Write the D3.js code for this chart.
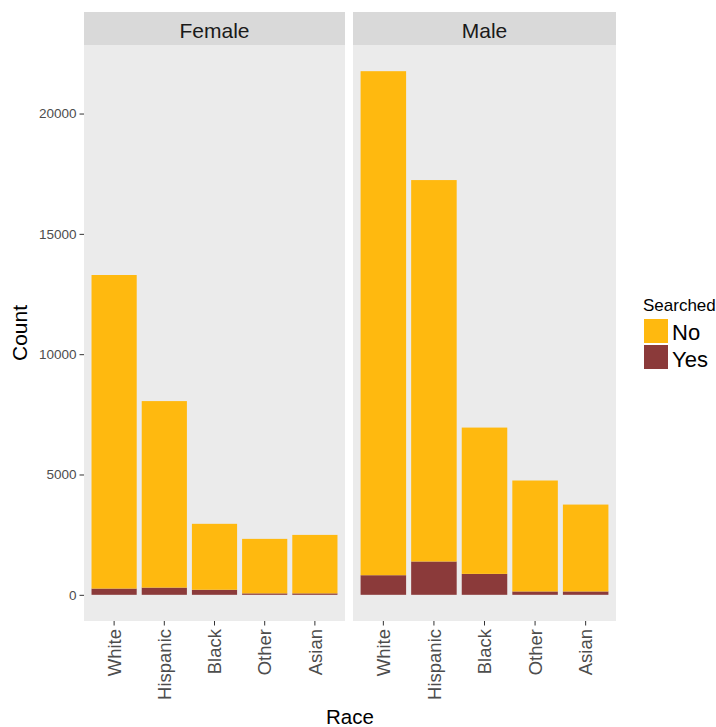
<!DOCTYPE html>
<html><head><meta charset="utf-8">
<script src="https://cdn.jsdelivr.net/npm/d3@7"></script>
<style>body{margin:0;background:#fff}svg{display:block}svg text{font-family:'Liberation Sans', Arial, sans-serif}</style>
</head><body>
<script>
const races = ["White","Hispanic","Black","Other","Asian"];
const genders = ["Female","Male"];
const searchedLevels = ["No","Yes"];
// counts
const femaleYes = [260, 300, 210, 60, 60];
const femaleNo  = [13030, 7750, 2740, 2265, 2430];
const maleYes   = [815, 1385, 870, 140, 140];
const maleNo    = [20945, 15850, 6080, 4610, 3610];
const yTicks = [0, 5000, 10000, 15000, 20000];
const colors = {No:"#FFB90F", Yes:"#8B3A3A"};

(function(){
const W = 716, H = 727;
const svg = d3.select("body").append("svg").attr("width", W).attr("height", H);

const panels = [
  {name:genders[0], x0:84, x1:345, no:femaleNo, yes:femaleYes},
  {name:genders[1], x0:353, x1:616, no:maleNo, yes:maleYes}
];
const pTop = 45, pBottom = 621, stripTop = 12;

const maxTotal = d3.max(panels.flatMap(p => p.no.map((v,i)=>v+p.yes[i])));
const y = d3.scaleLinear().domain([-0.05*maxTotal, 1.05*maxTotal]).range([pBottom, pTop]);

panels.forEach((p, pi) => {
  const x = d3.scaleBand().domain(races).range([p.x0, p.x1]).paddingInner(0.1).paddingOuter(0.15);
  const g = svg.append("g");
  g.append("rect").attr("x", p.x0).attr("y", pTop).attr("width", p.x1-p.x0).attr("height", pBottom-pTop).attr("fill", "#ebebeb");
  g.append("rect").attr("x", p.x0).attr("y", stripTop).attr("width", p.x1-p.x0).attr("height", pTop-stripTop).attr("fill", "#d9d9d9");
  g.append("text").attr("x", (p.x0+p.x1)/2).attr("y", 38)
    .attr("text-anchor","middle").attr("font-size", 21).attr("fill","#1a1a1a").text(p.name);
  const rows = races.map((r,i)=>({race:r, yes:p.yes[i], no:p.no[i]}));
  g.selectAll(".yes").data(rows).join("rect").attr("class","yes")
    .attr("x", d=>x(d.race)).attr("width", x.bandwidth())
    .attr("y", d=>y(d.yes)).attr("height", d=>y(0)-y(d.yes)).attr("fill", colors.Yes);
  g.selectAll(".no").data(rows).join("rect").attr("class","no")
    .attr("x", d=>x(d.race)).attr("width", x.bandwidth())
    .attr("y", d=>y(d.yes+d.no)).attr("height", d=>y(d.yes)-y(d.yes+d.no)).attr("fill", colors.No);
  const xa = svg.append("g").attr("transform", `translate(0,${pBottom})`)
    .call(d3.axisBottom(x).tickSize(4.5).tickPadding(3));
  xa.select(".domain").remove();
  xa.selectAll("line").attr("stroke","#333").attr("stroke-width",1);
  xa.selectAll("text").attr("font-size", 18.5).attr("fill","#4d4d4d")
    .attr("transform","rotate(-90)").attr("text-anchor","end")
    .attr("x", -8).attr("y", 0).attr("dy","0.36em");
  if (pi === 0) {
    const ya = svg.append("g").attr("transform", `translate(${p.x0},0)`)
      .call(d3.axisLeft(y).tickValues(yTicks).tickSize(4.5).tickPadding(3).tickFormat(d3.format("d")));
    ya.select(".domain").remove();
    ya.selectAll("line").attr("stroke","#333");
    ya.selectAll("text").attr("font-size", 13.5).attr("fill","#4d4d4d");
  }
});

svg.append("text").attr("transform", `translate(27,${(pTop+pBottom)/2}) rotate(-90)`)
  .attr("text-anchor","middle").attr("font-size", 21).attr("fill","#000").text("Count");
svg.append("text").attr("x", 350).attr("y", 724)
  .attr("text-anchor","middle").attr("font-size", 20.5).attr("fill","#000").text("Race");

const lg = svg.append("g");
lg.append("text").attr("x", 643).attr("y", 311).attr("font-size", 17).attr("fill","#000").text("Searched");
searchedLevels.forEach((s,i)=>{
  lg.append("rect").attr("x", 644).attr("y", 319 + i*26).attr("width", 24).attr("height", 24).attr("fill", colors[s]);
  lg.append("text").attr("x", 672).attr("y", 340 + i*26.5).attr("font-size", 22).attr("fill","#000").text(s);
});
})();
</script>
</body></html>
